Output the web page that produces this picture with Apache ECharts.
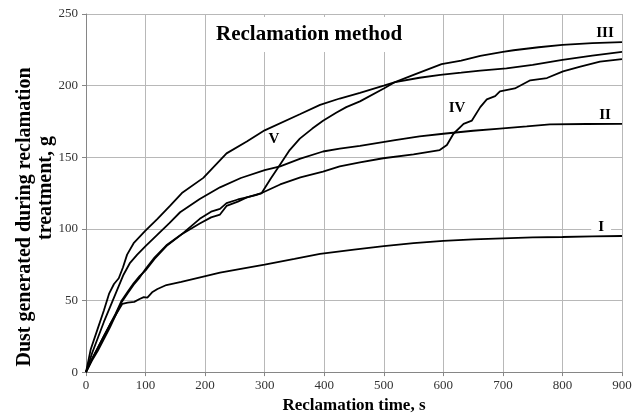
<!DOCTYPE html>
<html><head><meta charset="utf-8">
<script src="https://cdn.jsdelivr.net/npm/echarts@6/dist/echarts.min.js"></script>
<style>html,body{margin:0;padding:0;background:#fff}#c{width:640px;height:419px}</style>
</head><body><div id="c"></div><script>
// ---- data ----
const xI   = [0, 10, 20, 30, 40, 50, 61, 70, 81, 90, 97, 103, 111, 120, 135, 160, 190, 225, 260, 300, 350, 393, 450, 500, 550, 600, 650, 700, 750, 800, 850, 900];
const yI   = [0, 9, 17, 25, 33, 40, 47.7, 48.5, 49, 51, 52.3, 52, 55.7, 58, 60.8, 63, 66, 69.4, 72, 75, 79, 82.5, 85.5, 88, 90, 91.6, 92.6, 93.4, 94, 94.3, 94.7, 95];
const xII  = [0, 10, 20, 30, 40, 52, 63, 74, 86, 100, 120, 140, 158, 191, 225, 260, 300, 326, 360, 398, 426, 460, 519, 560, 600, 650, 695, 740, 779, 840, 900];
const yII  = [0, 13, 24, 35, 45, 57, 68, 76.3, 82, 88, 96, 104, 111.6, 120.8, 129, 135.5, 141, 143.6, 149, 154, 156, 158, 162, 164.5, 166.4, 168.5, 170, 171.5, 172.9, 173.2, 173.3];
const xIII = [0, 8, 19, 30, 39, 47, 55, 62, 69, 80, 99, 120, 141, 161, 197, 236, 270, 300, 359, 393, 426, 460, 500, 519, 550, 597, 630, 662, 700, 718, 760, 800, 850, 900];
const yIII = [0, 16, 29.5, 43, 55, 61.5, 65.5, 73, 82, 90, 98.4, 107, 116, 125, 135.6, 152.7, 161, 168.8, 180, 186.6, 191, 195, 200, 202.5, 207.5, 215, 217.5, 220.8, 223.5, 224.7, 226.8, 228.5, 229.6, 230.4];
const xIV  = [0, 10, 20, 30, 40, 50, 60, 70, 80, 90, 100, 115, 135, 160, 191, 210, 225, 236, 255, 270, 295, 326, 360, 398, 426, 460, 499, 550, 594, 606, 617, 634, 648, 662, 673, 687, 695, 720, 746, 774, 801, 830, 863, 900];
const yIV  = [0, 8, 15, 23, 31, 40, 49, 55, 61, 66, 72, 80, 88.5, 96, 103.7, 108, 110, 116, 119, 122, 125, 131, 136, 140, 143.6, 146.4, 149.3, 152, 155, 158.5, 166.4, 173.3, 175.6, 185, 190.4, 192.7, 196, 198, 203.7, 205.3, 210, 213.3, 216.7, 218.5];
const xV   = [0, 10, 20, 30, 40, 50, 60, 70, 80, 90, 100, 115, 135, 160, 191, 210, 225, 236, 255, 270, 285, 295, 310, 326, 342, 359, 380, 398, 420, 437, 460, 500, 519, 560, 595, 630, 662, 706, 750, 800, 850, 900];
const yV   = [0, 9, 17, 25, 33, 41, 50, 56, 62, 67, 71, 79, 88, 96, 107, 112, 114, 118, 120.5, 122, 123.5, 125, 135, 145, 155, 163, 170, 175.5, 181, 185, 189, 198, 202.5, 205.5, 207.5, 209, 210.5, 212, 214.5, 218, 221, 223.6];
const xTicks = {min: 0, max: 900, step: 100};
const yTicks = {min: 0, max: 250, step: 50};
const curveNames = ['I', 'II', 'III', 'IV', 'V'];

const F = '"Liberation Serif","Times New Roman",serif';
const pairs = (xs, ys) => xs.map((x, i) => [x, ys[i]]);
const lbl = (name, coord, bg) => ({
  symbol: 'rect', symbolSize: 0, silent: true,
  label: {show: true, formatter: name, fontFamily: F, fontSize: 15, fontWeight: 'bold', color: '#000',
          backgroundColor: bg ? '#fff' : 'transparent', padding: bg ? [0, 7] : 0, lineHeight: 12, position: 'inside'},
  data: [{coord: coord}]
});
const mk = (name, xs, ys, coord, bg) => ({
  name: name, type: 'line', data: pairs(xs, ys), showSymbol: false, symbol: 'none',
  lineStyle: {color: '#000', width: 1.8}, z: 3, markPoint: lbl(name, coord, bg)
});

const chart = echarts.init(document.getElementById('c'));
chart.setOption({
  animation: false,
  title: {text: 'Reclamation method', left: 210, top: 17, padding: [7, 6], backgroundColor: '#fff',
          textStyle: {fontFamily: F, fontSize: 21, fontWeight: 'bold', color: '#000', lineHeight: 21}},
  grid: {left: 86, right: 18, top: 14, bottom: 39},
  xAxis: {type: 'value', min: xTicks.min, max: xTicks.max, interval: xTicks.step,
    name: 'Reclamation time, s', nameLocation: 'middle', nameGap: 22,
    nameTextStyle: {fontFamily: F, fontSize: 17, fontWeight: 'bold', color: '#000'},
    axisLine: {lineStyle: {color: '#868686'}},
    axisTick: {show: true, length: 4, lineStyle: {color: '#868686'}},
    axisLabel: {fontFamily: F, fontSize: 13, color: '#333', margin: 7},
    splitLine: {show: true, lineStyle: {color: '#b8b8b8'}}},
  yAxis: {type: 'value', min: yTicks.min, max: yTicks.max, interval: yTicks.step,
    axisLine: {show: true, lineStyle: {color: '#868686'}},
    axisTick: {show: true, length: 4, lineStyle: {color: '#868686'}},
    axisLabel: {fontFamily: F, fontSize: 13, color: '#333', margin: 8},
    splitLine: {show: true, lineStyle: {color: '#b8b8b8'}}},
  graphic: [
    {type: 'text', x: 25, y: 217, rotation: Math.PI / 2,
     style: {text: 'Dust generated during reclamation', font: 'bold 20px ' + F, fill: '#000', align: 'center', verticalAlign: 'middle'}},
    {type: 'text', x: 46, y: 188, rotation: Math.PI / 2,
     style: {text: 'treatment, g', font: 'bold 20px ' + F, fill: '#000', align: 'center', verticalAlign: 'middle'}}
  ],
  series: [
    mk(curveNames[0], xI, yI, [865, 100.9], true),
    mk(curveNames[1], xII, yII, [871.5, 179.5], false),
    mk(curveNames[2], xIII, yIII, [871.5, 236.8], false),
    mk(curveNames[3], xIV, yIV, [623, 184], false),
    mk(curveNames[4], xV, yV, [315.7, 162.3], false)
  ]
});
</script></body></html>
